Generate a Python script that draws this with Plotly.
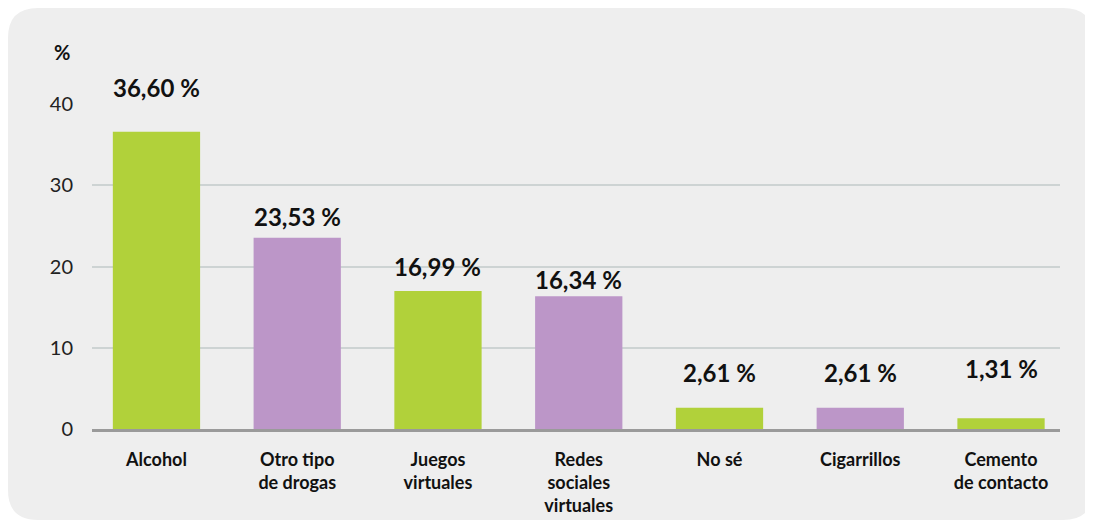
import plotly.graph_objects as go

categories = ["Alcohol", "Otro tipo<br>de drogas", "Juegos<br>virtuales", "Redes<br>sociales<br>virtuales",
              "No sé", "Cigarrillos", "Cemento<br>de contacto"]
values = [36.60, 23.53, 16.99, 16.34, 2.61, 2.61, 1.31]
y_ticks = [0, 10, 20, 30, 40]

GREEN = "#b1d13a"
PURPLE = "#bc96c8"
colors = [GREEN if i % 2 == 0 else PURPLE for i in range(len(values))]

# the page body adds an 8px margin, so the figure is sized to fill the rest
W, H = 1085, 513
L, R, T, B = 84, 33, 96, 92
pw, ph = W - L - R, H - T - B


def px(x):
    return (x - L) / pw


def py(y):
    return (H - B - y) / ph


fig = go.Figure()
fig.add_trace(go.Bar(
    x=categories, y=values, marker_color=colors, width=0.62,
    marker_line_width=0, hoverinfo="skip",
))

# value labels above the bars
offsets = [44, 21, 24, 17, 35, 35, 50]
for c, v, off in zip(categories, values, offsets):
    fig.add_annotation(
        x=c, y=v, text=f"{v:.2f}".replace(".", ",") + " %", showarrow=False,
        yshift=off, font=dict(family="Lato", size=24, color="#111111", weight="bold"),
    )

fig.add_annotation(x=px(54), y=py(44), xref="paper", yref="paper", text="%",
                   xanchor="center", yanchor="middle", showarrow=False,
                   font=dict(family="Lato", size=20, color="#111111", weight="bold"))

# rounded grey panel behind the chart
x0, x1, y0, y1, r = 0, 1085, 0, 512, 30
path = (f"M {px(x0)},{py(y0 + r)} Q {px(x0)},{py(y0)} {px(x0 + r)},{py(y0)} "
        f"L {px(x1 - r)},{py(y0)} Q {px(x1)},{py(y0)} {px(x1)},{py(y0 + r)} "
        f"L {px(x1)},{py(y1 - r)} Q {px(x1)},{py(y1)} {px(x1 - r)},{py(y1)} "
        f"L {px(x0 + r)},{py(y1)} Q {px(x0)},{py(y1)} {px(x0)},{py(y1 - r)} Z")
fig.add_shape(type="path", path=path, xref="paper", yref="paper", layer="below",
              fillcolor="#eeeeee", line_width=0)

fig.update_layout(
    width=W, height=H,
    margin=dict(l=L, r=R, t=T, b=B, pad=0, autoexpand=False),
    paper_bgcolor="white", plot_bgcolor="rgba(0,0,0,0)",
    showlegend=False,
    font=dict(family="Lato", color="#111111"),
    xaxis=dict(
        type="category", range=[-0.458, 6.419], showgrid=False, automargin=False,
        showline=True, linecolor="#9a9a9a", linewidth=3,
        ticks="outside", ticklen=0, ticklabelstandoff=12,
        tickfont=dict(family="Lato", size=18, color="#111111", weight="bold"),
    ),
    yaxis=dict(
        range=[0, 40], tickvals=y_ticks, showgrid=True, gridcolor="#cdd3d3", gridwidth=1.5,
        zeroline=False, showline=False, ticks="", ticklabelstandoff=18, automargin=False,
        tickfont=dict(family="Lato", size=20, color="#222222"),
    ),
)

fig.write_html("out.html")
